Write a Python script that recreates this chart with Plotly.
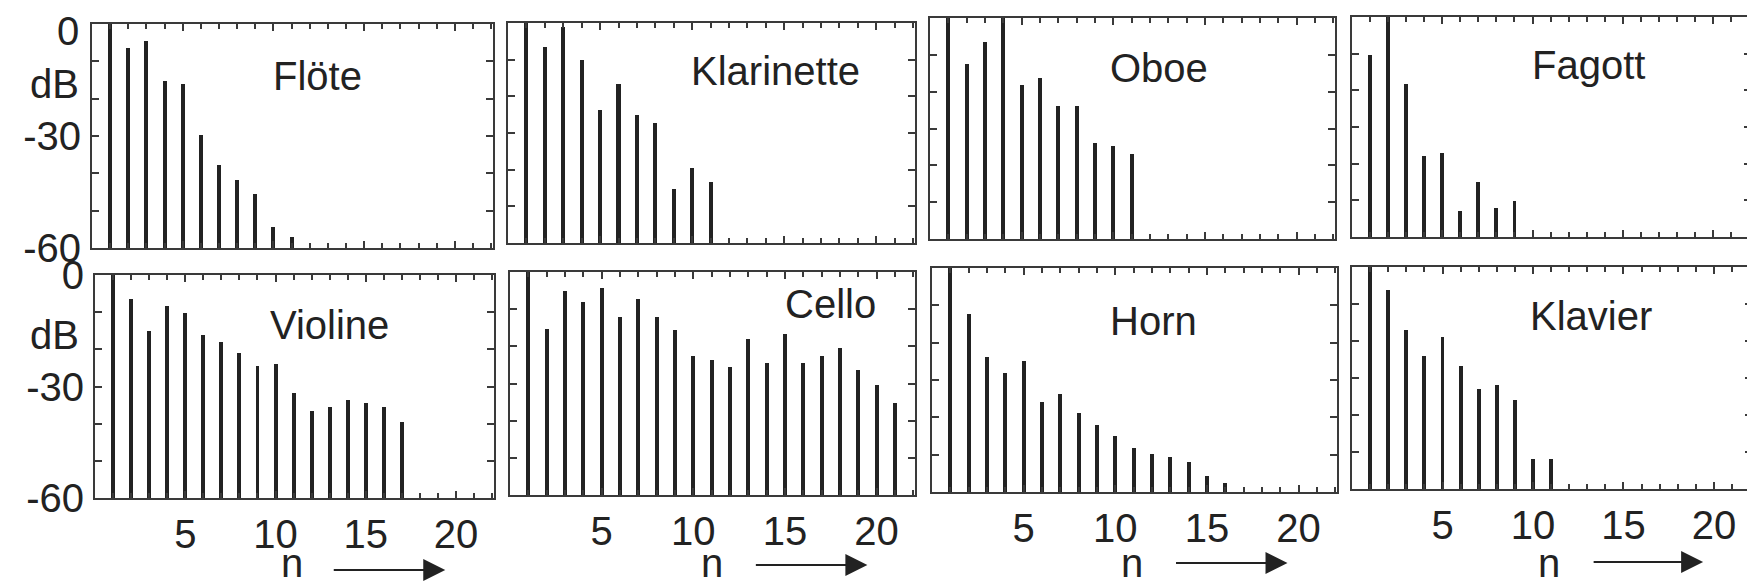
import numpy as np
import plotly.graph_objects as go

# ---------------- data (dB level of harmonic n, n = 1, 2, ...) ----------------
instruments = ["Flöte", "Klarinette", "Oboe", "Fagott", "Violine", "Cello", "Horn", "Klavier"]
floete = [0, -6.5, -4.5, -15.2, -16.1, -29.7, -37.7, -41.7, -45.5, -54.5, -57.1]
klarinette = [0, -6.5, -1, -10, -23.8, -16.6, -25.2, -27.2, -45.3, -39.5, -43.3]
oboe = [0, -12.4, -6.5, 0, -18.2, -16.4, -24, -24, -33.9, -34.8, -37]
fagott = [-10.3, 0, -18.2, -38, -37.1, -52.9, -45.1, -52, -50.2]
violine = [0, -6.4, -15, -8.3, -10.3, -16.1, -17.9, -21, -24.6, -23.9, -31.8,
           -36.5, -35.6, -33.6, -34.5, -35.5, -39.6]
cello = [0, -15.3, -5.1, -8.1, -4.2, -12.1, -7.2, -12.1, -15.7, -22.7, -23.8,
         -25.6, -18, -24.5, -16.6, -24.5, -22.5, -20.5, -26.4, -30.3, -35.3]
horn = [0, -12.3, -23.9, -28, -24.8, -35.8, -33.7, -38.9, -42, -45, -48.3,
        -49.8, -50.5, -51.9, -55.7, -57.7]
klavier = [0, -6.1, -17.1, -24, -18.9, -26.7, -33.1, -31.8, -35.9, -51.9, -51.9]
series = [floete, klarinette, oboe, fagott, violine, cello, horn, klavier]

y_tickvals = [0, -30, -60]
y_ticktext = ["0", "-30", "-60"]
x_tickvals = [5, 10, 15, 20]
x_ticktext = ["5", "10", "15", "20"]
db_floor = -60

# ---------------- layout geometry ----------------
# page pixels (1755 x 586 window); the html body has an 8 px margin
PAGE_W, PAGE_H = 1755, 586
OFF = 8
W, H = PAGE_W - OFF, PAGE_H - OFF
panels_px = [  # left, right, top, bottom in page pixels
    (92, 493, 24, 248), (508, 915, 23, 243), (930, 1335, 18, 239), (1352, 1751, 17, 237),
    (95, 494, 275, 498), (510, 915, 272, 495), (932, 1337, 268, 492), (1352, 1752, 267, 489),
]
name_pos = [(12.4, -14), (14.5, -13), (12.5, -13.5), (13.1, -13),
            (13.0, -13.4), (17.5, -8.5), (12.1, -14.3), (13.2, -13.2)]
# arrow head (n units), arrow length (px), "n" label position (n units), arrow y (page px)
arrow_geo = {5: (19.4, 113, 10.9, 570), 6: (19.5, 113, 11.0, 565),
             7: (19.4, 113, 10.9, 563), 8: (19.4, 111, 10.9, 562)}


def px(x):
    return (x - OFF) / W


def py(y):
    return 1 - (y - OFF) / H


FONT = "Liberation Sans"
INK = "#222222"
FRAME = "#3a3a3a"

fig = go.Figure()
annotations = []
layout_axes = {}
for i, (name, vals) in enumerate(zip(instruments, series)):
    k = i + 1
    sfx = "" if k == 1 else str(k)
    xa, ya = "x" + sfx, "y" + sfx
    n = np.arange(1, len(vals) + 1)
    v = np.array(vals, dtype=float)
    fig.add_trace(go.Bar(
        x=n, y=v - db_floor, base=db_floor, width=0.22,
        marker=dict(color=INK, line=dict(width=0)),
        xaxis=xa, yaxis=ya, showlegend=False, hoverinfo="skip",
    ))
    l, r, t, b = panels_px[i]
    bottom_row = k >= 5
    left_col = k in (1, 5)
    # the top-most "0" label sits at the page edge: it is drawn as an annotation instead
    ticktext = list(y_ticktext)
    if k == 1:
        ticktext[0] = ""
    layout_axes["xaxis" + sfx] = dict(
        domain=[px(l), px(r)], anchor=ya, range=[0, 22.1], automargin=False,
        showline=True, linecolor=FRAME, linewidth=2, mirror="ticks",
        showgrid=False, zeroline=False,
        tickmode="array", tickvals=x_tickvals, ticktext=x_ticktext,
        ticks="inside", ticklen=7, tickwidth=1.5, tickcolor=FRAME,
        minor=dict(tickmode="linear", tick0=0, dtick=1, ticks="inside",
                   ticklen=5, tickwidth=1.5, tickcolor=FRAME, showgrid=False),
        showticklabels=bottom_row, ticklabelstandoff=0, ticklabeloverflow="allow",
        tickfont=dict(family=FONT, size=40, color=INK),
        fixedrange=True,
    )
    layout_axes["yaxis" + sfx] = dict(
        domain=[py(b), py(t)], anchor=xa, range=[db_floor, 0], automargin=False,
        showline=True, linecolor=FRAME, linewidth=2, mirror="ticks",
        showgrid=False, zeroline=False,
        tickmode="array", tickvals=y_tickvals, ticktext=ticktext,
        ticks="inside", ticklen=7, tickwidth=1.5, tickcolor=FRAME,
        minor=dict(tickmode="linear", tick0=0, dtick=10, ticks="inside",
                   ticklen=7, tickwidth=1.5, tickcolor=FRAME, showgrid=False),
        showticklabels=left_col, ticklabelstandoff=1, ticklabeloverflow="allow",
        tickfont=dict(family=FONT, size=40, color=INK),
        fixedrange=True,
    )
    nx, ny = name_pos[i]
    annotations.append(dict(x=nx, y=ny, xref=xa, yref=ya, text=name, showarrow=False,
                            xanchor="center", yanchor="middle",
                            font=dict(family=FONT, size=40, color=INK)))
    if k == 1:
        annotations.append(dict(x=px(80), y=1, xref="paper", yref="paper",
                                text=y_ticktext[0], showarrow=False,
                                xanchor="right", yanchor="top", borderpad=0,
                                font=dict(family=FONT, size=40, color=INK)))
    if left_col:
        annotations.append(dict(x=px(81), y=py(t + 60), xref="paper", yref="paper",
                                text="dB", showarrow=False, xanchor="right", yanchor="middle",
                                font=dict(family=FONT, size=40, color=INK)))
    if bottom_row:
        head, length, nlab, yy = arrow_geo[k]
        annotations.append(dict(x=nlab, y=0, xref=xa, yref="paper",
                                text="n", showarrow=False, xanchor="center", yanchor="bottom",
                                borderpad=0,
                                font=dict(family=FONT, size=40, color=INK)))
        annotations.append(dict(x=head, y=py(yy), xref=xa, yref="paper",
                                ax=-length, ay=0, axref="pixel", ayref="pixel",
                                text="", showarrow=True, arrowhead=2, arrowsize=2.2,
                                arrowwidth=2, arrowcolor=INK, standoff=0))

fig.update_layout(
    template="none",
    width=W, height=H,
    margin=dict(l=0, r=0, t=0, b=0, autoexpand=False),
    paper_bgcolor="white", plot_bgcolor="white",
    bargap=0, annotations=annotations,
    **layout_axes,
)
fig.write_html("out.html")
